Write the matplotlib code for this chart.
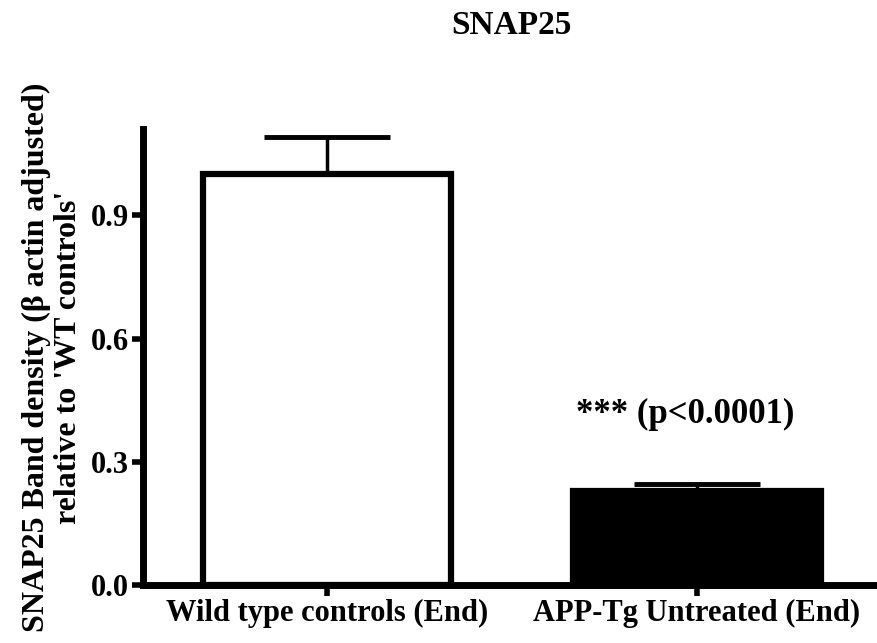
import matplotlib
matplotlib.use('Agg')
import matplotlib.pyplot as plt

# Data
groups = ['Wild type controls (End)', 'APP-Tg Untreated (End)']
means = [1.0, 0.23]
sem = [0.09, 0.017]
colors = ['white', 'black']
yticks = [0.0, 0.3, 0.6, 0.9]
sig_text = '*** (p<0.0001)'

plt.rcParams['font.family'] = ['Liberation Serif', 'DejaVu Serif']
plt.rcParams['font.weight'] = 'bold'

fig = plt.figure(figsize=(8.78, 6.43), dpi=100)
ax = fig.add_axes([143 / 878, 1 - 585 / 643, 1 - 143 / 878, (585 - 129) / 643])

x = list(range(len(groups)))
ax.bar(x, means, width=0.67, color=colors, edgecolor='black', linewidth=4.5, zorder=2)
ax.errorbar(x, means, yerr=[[0] * len(sem), sem], fmt='none', ecolor='black',
            elinewidth=2.5, capsize=45.5, capthick=3.5, zorder=1)

ax.set_xlim(-0.497, 1.49)
ax.set_ylim(0, 1.11)
ax.set_xticks(x)
ax.set_xticklabels(groups, fontsize=22, fontweight='bold')
ax.set_yticks(yticks)
ax.set_yticklabels([f'{v:.1f}' for v in yticks], fontsize=22, fontweight='bold')
ax.tick_params(axis='both', direction='out', length=8, width=4, pad=2)

for side in ['top', 'right']:
    ax.spines[side].set_visible(False)
for side in ['left', 'bottom']:
    ax.spines[side].set_linewidth(5)

ax.set_ylabel("SNAP25 Band density (\u03b2 actin adjusted)\nrelative to 'WT controls'",
              fontsize=23, fontweight='bold', labelpad=6, linespacing=1.1)
ax.text(0.97, 0.415, sig_text, ha='center', va='center', fontsize=25, fontweight='bold')

fig.text(0.583, 0.96, 'SNAP25', ha='center', va='center', fontsize=24, fontweight='bold')

fig.savefig('out.png', dpi=100)
